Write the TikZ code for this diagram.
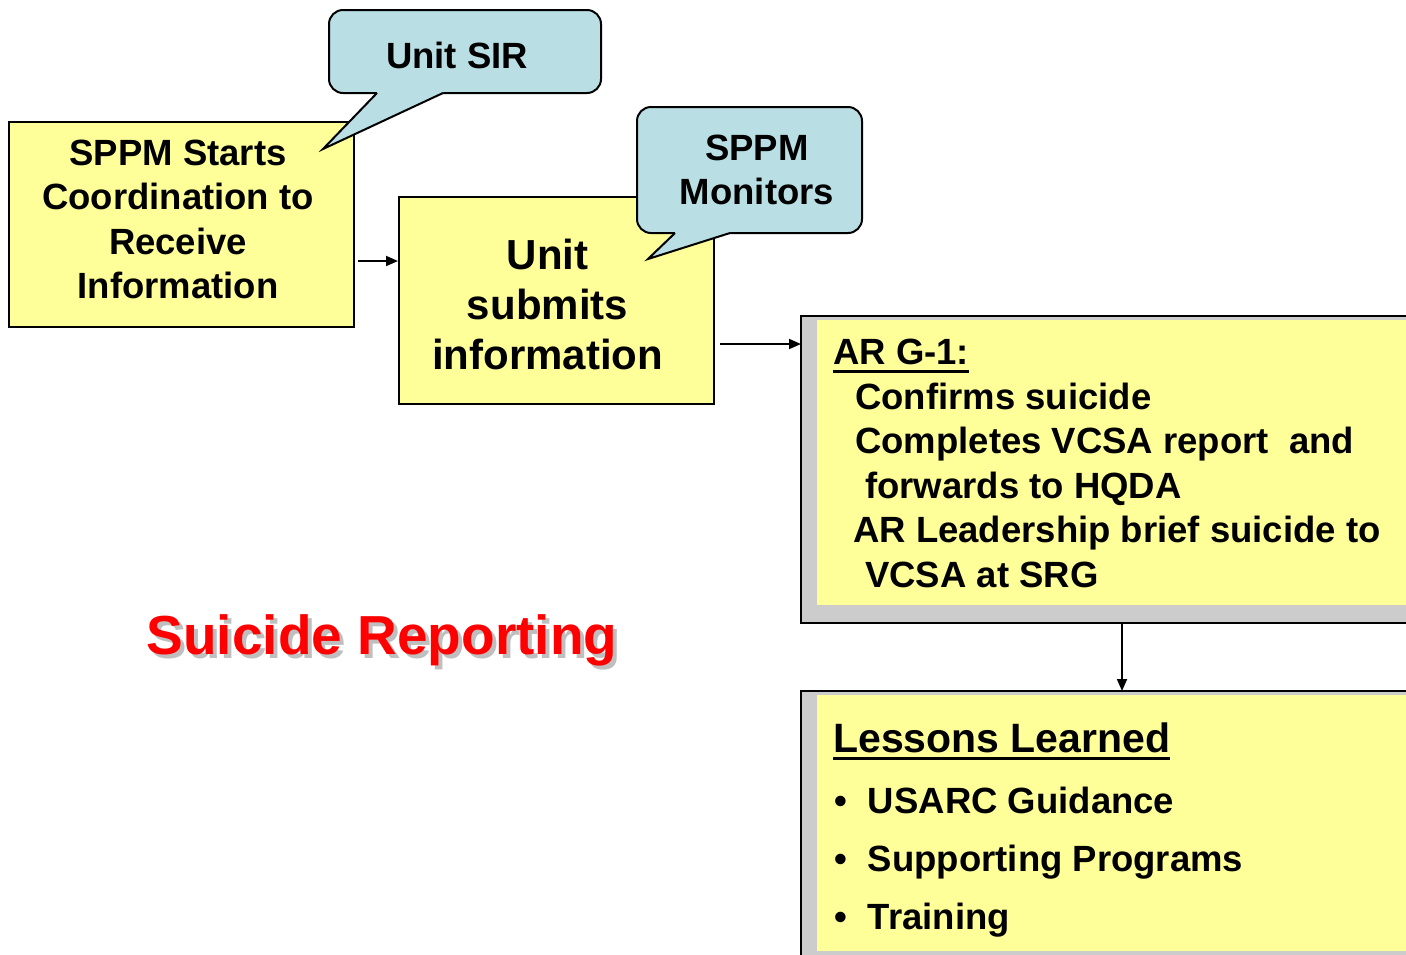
\documentclass[tikz,border=0pt]{standalone}
\usepackage{fontspec}
\setmainfont{Liberation Sans}
\usetikzlibrary{arrows.meta,calc}
\tikzset{
  note/.style={
    draw=black,
    line width=2pt,
    fill=noteyellow,
    inner sep=0pt
  },
  bubble/.style={
    draw=black,
    line width=2pt,
    fill=bubbleblue,
    rounded corners=14pt,
    inner sep=0pt
  },
  label-text/.style={
    align=center,
    inner sep=0pt,
    font=\bfseries\fontsize{36.5}{44.5}\selectfont
  },
  bubble-tail/.style={line width=2pt, line join=miter},
  panel/.style={
    draw=black,
    line width=2.5pt,
    fill=panelgray,
    inner sep=0pt,
    outer sep=0pt
  },
  panel-text/.style={
    inner sep=0pt,
    align=left,
    font=\bfseries\fontsize{36.5}{44.5}\selectfont
  },
  flow/.style={line width=1.8pt, -{Triangle[length=12pt,width=10pt]}},
  headline/.style={inner sep=0pt, font=\bfseries\fontsize{55}{60}\selectfont}
}
\definecolor{noteyellow}{RGB}{255,255,153}
\definecolor{bubbleblue}{RGB}{185,223,228}
\definecolor{panelgray}{RGB}{204,204,204}
\definecolor{headred}{RGB}{255,0,0}
\newcommand{\undl}[1]{\setbox0=\hbox{#1}\rlap{\vrule height -5pt depth 8pt width \wd0}\box0}
\newcommand{\panelframe}[3]{
  \node[panel, anchor=north west, minimum width=619pt, minimum height=#3pt] (#1) at (801,#2) {};
  \fill[noteyellow] ($(#1.north west)+(16,4)$) rectangle ($(#1.south east)+(0,-18)$);
}

\begin{document}
\begin{tikzpicture}[x=1pt,y=-1pt]
  \useasboundingbox (0,0) rectangle (1406,954);
  \clip (0,0) rectangle (1406,954);
  \coordinate (lvl1) at (0,261);
  \coordinate (lvl2) at (0,344);
  \coordinate (col) at (1122,0);
  % Coordination box and its callout
  \node[note, minimum width=345pt, minimum height=205pt] (start) at (181.5,224.5) {};
  \node[label-text] (start-text) at (178,219.5)
    {SPPM Starts\\Coordination to\\Receive\\Information};
  \node[bubble, minimum width=272pt, minimum height=83pt] (sir) at (465,51.5) {};
  \node[label-text] (sir-text) at (457,55) {Unit SIR};
  \coordinate (sir-a) at (377,93);
  \coordinate (sir-b) at (443,93);
  \coordinate (sir-tip) at (323,149);
  \fill[bubbleblue] (sir-a) -- (sir-tip) -- (sir-b) -- ++(0,-4) -- ($(sir-a)+(0,-4)$) -- cycle;
  \draw[bubble-tail] (sir-a) -- (sir-tip) -- (sir-b);
  % Submission box and its callout
  \node[note, minimum width=315pt, minimum height=207pt] (submit) at (556.5,300.5) {};
  \node[label-text, font=\bfseries\fontsize{42}{50}\selectfont] (submit-text) at (547.5,304.5)
    {Unit\\submits\\information};
  \node[bubble, minimum width=225pt, minimum height=126pt] (monitor) at (749.5,170) {};
  \node[label-text] (monitor-text) at (757,170) {SPPM\\Monitors};
  \coordinate (mon-a) at (675,233);
  \coordinate (mon-b) at (730,233);
  \coordinate (mon-tip) at (648,259);
  \fill[bubbleblue] (mon-a) -- (mon-tip) -- (mon-b) -- ++(0,-4) -- ($(mon-a)+(0,-4)$) -- cycle;
  \draw[bubble-tail] (mon-a) -- (mon-tip) -- (mon-b);
  \draw[flow, shorten <=3pt] (start.east |- lvl1) -- (submit.west |- lvl1);
  % AR G-1 panel
  \panelframe{g1}{316}{307}
  \node[panel-text, anchor=north west] (g1-text) at (833,339)
    {\undl{AR G-1:}\\
     \hspace*{22pt}Confirms suicide\\
     \hspace*{22pt}Completes VCSA report\ \ and\\
     \hspace*{32pt}forwards to HQDA\\
     \hspace*{20pt}AR Leadership brief suicide to\\
     \hspace*{32pt}VCSA at SRG};
  \draw[flow, shorten <=5pt] (submit.east |- lvl2) -- (g1.west |- lvl2);
  % Lessons learned panel
  \panelframe{lessons}{691}{278}
  \node[panel-text, anchor=base west, font=\bfseries\fontsize{41}{44}\selectfont] (lessons-head) at (833,752)
    {\undl{Lessons Learned}};
  \node[panel-text, anchor=north west, font=\bfseries\fontsize{36.5}{58}\selectfont] (lessons-list) at (834,787)
    {\textbullet\hspace{21pt}USARC Guidance\\
     \textbullet\hspace{21pt}Supporting Programs\\
     \textbullet\hspace{21pt}Training};
  \draw[flow] (g1.south -| col) -- (lessons.north -| col);
  % Title with its shadow
  \node[headline, anchor=base, text=black!25] (headline-shade) at (386,658) {Suicide Reporting};
  \node[headline, anchor=base, text=headred] (headline) at (382,654) {Suicide Reporting};
\end{tikzpicture}
\end{document}
